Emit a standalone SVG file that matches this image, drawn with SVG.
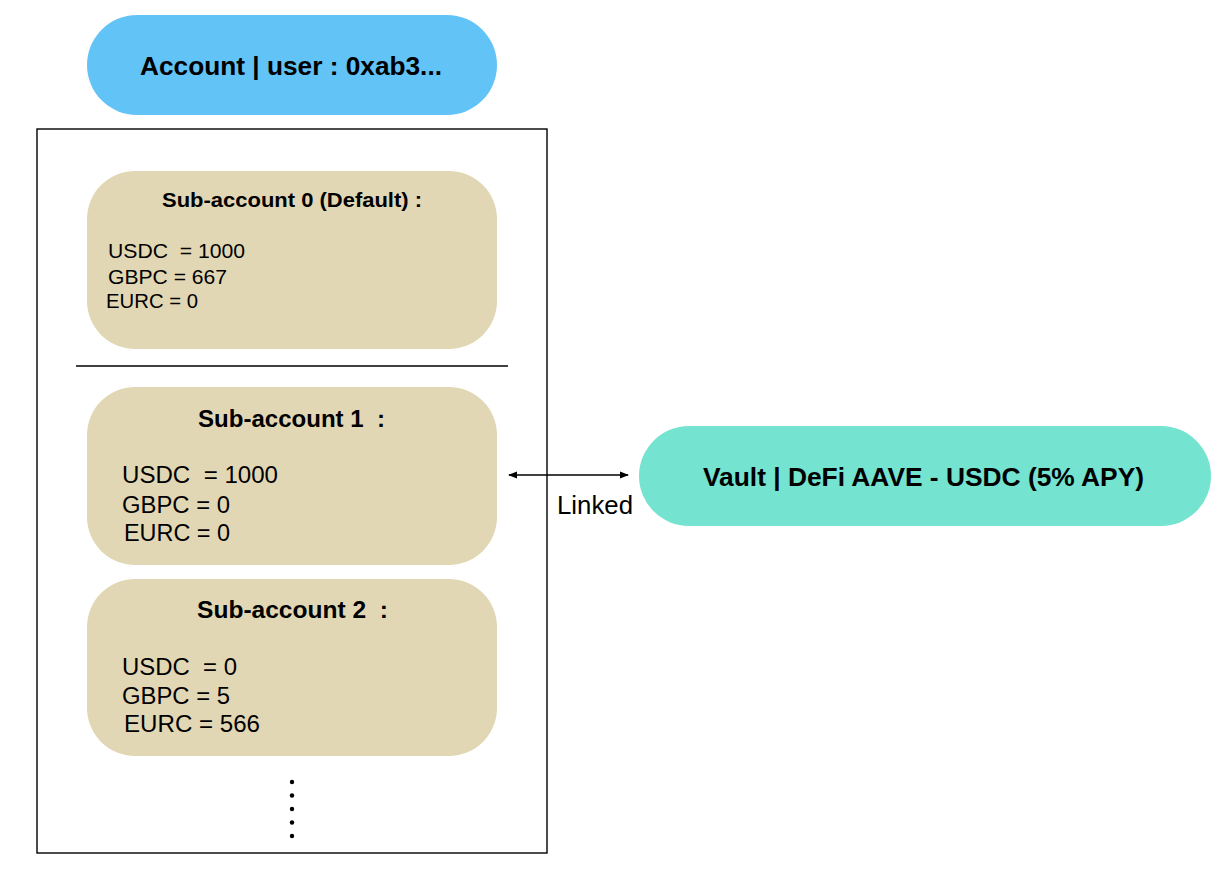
<svg xmlns="http://www.w3.org/2000/svg" width="1223" height="878" viewBox="0 0 1223 878">
<defs>
<style>
.sub{fill:#E2D7B4;}
.t{font-family:"Liberation Sans",Arial,sans-serif;fill:#000;}
.b{font-weight:bold;}
.ln{stroke:#000;stroke-width:1.3;fill:none;}
</style>
<marker id="ah" viewBox="0 0 10 10" refX="9" refY="5" markerWidth="7" markerHeight="7" orient="auto-start-reverse">
<path d="M0,1 L10,5 L0,9 Z" fill="#000"/>
</marker>
</defs>
<rect width="1223" height="878" fill="#fff"/>
<g id="account">
<rect x="87" y="15" width="410" height="100" rx="50" fill="#62C3F7"/>
<text class="t b" x="140" y="75" font-size="25" textLength="302" lengthAdjust="spacingAndGlyphs">Account | user : 0xab3...</text>
</g>
<g id="container">
<rect x="37" y="129" width="510" height="724" fill="none" stroke="#000" stroke-width="1.4"/>
<line x1="76" y1="366" x2="508" y2="366" stroke="#000" stroke-width="1.3"/>
</g>
<g id="sub0">
<rect class="sub" x="87" y="171" width="410" height="178" rx="48"/>
<text class="t b" x="162" y="207" font-size="20.5" textLength="260" lengthAdjust="spacingAndGlyphs">Sub-account 0 (Default) :</text>
<text class="t" x="108" y="258" font-size="21" xml:space="preserve" textLength="137" lengthAdjust="spacingAndGlyphs">USDC  = 1000</text>
<text class="t" x="108" y="284" font-size="21" textLength="119" lengthAdjust="spacingAndGlyphs">GBPC = 667</text>
<text class="t" x="106" y="308" font-size="21" textLength="92" lengthAdjust="spacingAndGlyphs">EURC = 0</text>
</g>
<g id="sub1">
<rect class="sub" x="87" y="387" width="410" height="178" rx="48"/>
<text class="t b" x="198" y="427" font-size="23" xml:space="preserve" textLength="187" lengthAdjust="spacingAndGlyphs">Sub-account 1  :</text>
<text class="t" x="122" y="483" font-size="23" xml:space="preserve" textLength="156" lengthAdjust="spacingAndGlyphs">USDC  = 1000</text>
<text class="t" x="122" y="513" font-size="23" textLength="108" lengthAdjust="spacingAndGlyphs">GBPC = 0</text>
<text class="t" x="124" y="541" font-size="23" textLength="106" lengthAdjust="spacingAndGlyphs">EURC = 0</text>
</g>
<g id="sub2">
<rect class="sub" x="87" y="579" width="410" height="177" rx="48"/>
<text class="t b" x="197" y="618" font-size="23" xml:space="preserve" textLength="191" lengthAdjust="spacingAndGlyphs">Sub-account 2  :</text>
<text class="t" x="122" y="675" font-size="23" xml:space="preserve" textLength="115" lengthAdjust="spacingAndGlyphs">USDC  = 0</text>
<text class="t" x="122" y="704" font-size="23" textLength="108" lengthAdjust="spacingAndGlyphs">GBPC = 5</text>
<text class="t" x="124" y="732" font-size="23" textLength="136" lengthAdjust="spacingAndGlyphs">EURC = 566</text>
</g>
<g id="more">
<circle cx="292" cy="782" r="2.2"/>
<circle cx="292" cy="795.5" r="2.2"/>
<circle cx="292" cy="809" r="2.2"/>
<circle cx="292" cy="822.5" r="2.2"/>
<circle cx="292" cy="836" r="2.2"/>
</g>
<g id="vault">
<rect x="639" y="426" width="572" height="100" rx="50" fill="#74E3CF"/>
<text class="t b" x="703" y="486" font-size="25" textLength="441" lengthAdjust="spacingAndGlyphs">Vault | DeFi AAVE - USDC (5% APY)</text>
</g>
<g id="connectors">
<line class="ln" x1="509" y1="475" x2="628" y2="475" marker-start="url(#ah)" marker-end="url(#ah)"/>
<text class="t" x="557" y="514" font-size="25" textLength="76" lengthAdjust="spacingAndGlyphs">Linked</text>
</g>
</svg>
